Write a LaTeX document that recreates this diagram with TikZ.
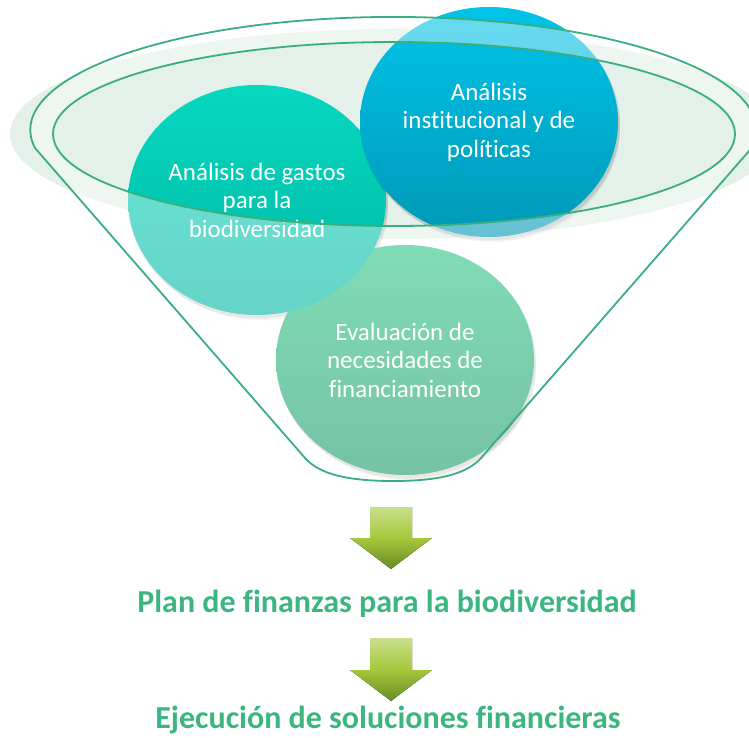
\documentclass[tikz,border=0pt]{standalone}
\usepackage{fontspec}
\setmainfont{Carlito}[RawFeature={-liga;-clig;-dlig}]
\usetikzlibrary{shapes.geometric}
\definecolor{fline}{RGB}{58,174,125}
\definecolor{ftext}{RGB}{59,182,129}
\definecolor{bgell}{RGB}{228,240,234}
\definecolor{tealtop}{RGB}{6,216,192}
\definecolor{tealbot}{RGB}{0,184,163}
\definecolor{bluetop}{RGB}{0,196,233}
\definecolor{bluebot}{RGB}{0,152,182}
\definecolor{evaltop}{RGB}{43,198,134}
\definecolor{evalbot}{RGB}{27,154,106}
\definecolor{arrtop}{RGB}{200,224,140}
\definecolor{arrmid}{RGB}{166,200,60}
\definecolor{arrbot}{RGB}{104,138,38}
\tikzset{
  bubble/.style={ellipse, minimum width=258pt, minimum height=230pt, inner sep=0pt,
    text=white, align=center, font=\fontsize{25}{28.5}\selectfont},
  shadowell/.style={fill=black, opacity=0.055},
  blockarrow/.style={top color=arrtop, bottom color=arrbot, middle color=arrmid},
  result/.style={text=ftext, font=\bfseries\fontsize{32}{38}\selectfont},
  funnelline/.style={draw=fline, line width=1.8pt, line join=round}
}
\begin{document}
\begin{tikzpicture}[x=1pt,y=1pt]
\useasboundingbox (0,0) rectangle (749,737);
\clip (0,0) rectangle (749,737);
% light background ellipse
\fill[bgell] (394,603) ellipse [x radius=384pt, y radius=105pt];
% shadows
\foreach \cx/\cy in {405/377, 257/537}{
  \fill[shadowell] (\cx+1,\cy-2) ellipse [x radius=130pt, y radius=116pt];
  \fill[shadowell] (\cx+2,\cy-4) ellipse [x radius=129pt, y radius=115pt];
  \fill[shadowell] (\cx+3,\cy-6) ellipse [x radius=128pt, y radius=114pt];
}
% circles (bottom to top)
\node[bubble, top color=evaltop, bottom color=evalbot] (eval) at (405,377)
  {Evaluación de\\necesidades de\\financiamiento};
\node[bubble, top color=tealtop, bottom color=tealbot] (gastos) at (257,537)
  {Análisis de gastos\\para la\\biodiversidad};
\fill[shadowell] (490,613) ellipse [x radius=130pt, y radius=116pt];
\fill[shadowell] (491,611) ellipse [x radius=129pt, y radius=115pt];
\fill[shadowell] (492,609) ellipse [x radius=128pt, y radius=114pt];
\node[bubble, top color=bluetop, bottom color=bluebot] (inst) at (489,615)
  {Análisis\\institucional y de\\políticas};
% funnel body overlay (washes out everything outside the opening)
\path[fill=white, fill opacity=0.4, even odd rule]
  (35,589) arc[start angle=189.2, end angle=-9.2, x radius=363pt, y radius=113pt]
  -- (481,279) .. controls (466,262) and (436,256) .. (393,256)
  .. controls (350,256) and (320,262) .. (305,279) -- cycle
  (394,603) ellipse [x radius=341pt, y radius=92pt];
% funnel outlines
\draw[funnelline]
  (35,589) arc[start angle=189.2, end angle=-9.2, x radius=363pt, y radius=113pt]
  -- (481,279) .. controls (466,262) and (436,256) .. (393,256)
  .. controls (350,256) and (320,262) .. (305,279) -- cycle;
\draw[funnelline] (394,603) ellipse [x radius=341pt, y radius=92pt];
% arrows
\fill[blockarrow] (370,230) -- (412,230) -- (412,199) -- (432,199) -- (391,168)
  -- (350,199) -- (370,199) -- cycle;
\node[result] (plan) at (387,133) {Plan de finanzas para la biodiversidad};
\fill[blockarrow] (370,99) -- (412,99) -- (412,67) -- (432,67) -- (391,36)
  -- (350,67) -- (370,67) -- cycle;
\node[result] (ejec) at (388,17) {Ejecución de soluciones financieras};
\end{tikzpicture}
\end{document}
